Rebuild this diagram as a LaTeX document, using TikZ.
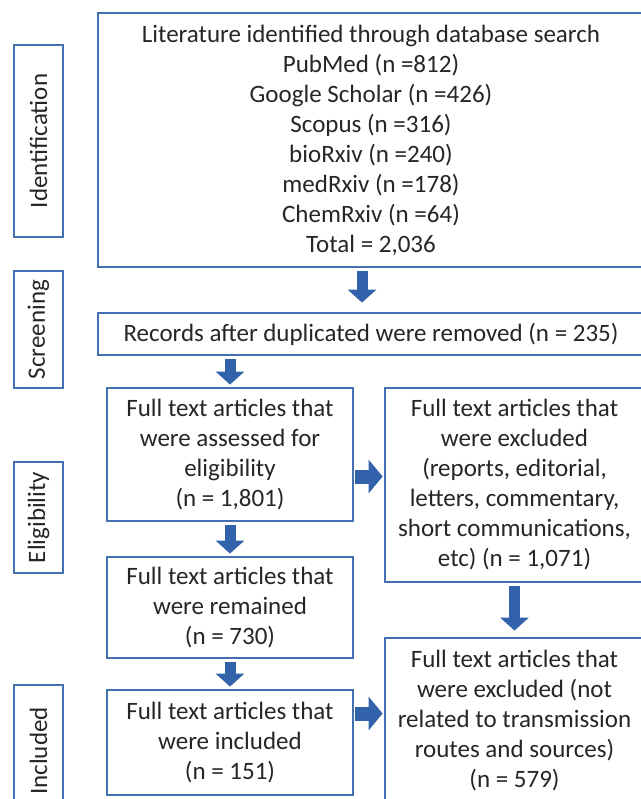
\documentclass[tikz,border=0pt]{standalone}
\usepackage{fontspec}
\setmainfont{Carlito}
\usetikzlibrary{arrows.meta}
\definecolor{boxblue}{RGB}{66,112,176}
\definecolor{arrowblue}{RGB}{50,98,170}
\begin{document}
\begin{tikzpicture}[x=1pt, y=-1pt,
    every node/.style={font=\fontsize{25pt}{30pt}\selectfont, text=black!85},
    mainbox/.style={draw=boxblue, line width=2.8pt, align=center, inner sep=0pt},
    stagebox/.style={draw=boxblue, line width=2.8pt, inner sep=0pt, rotate=90, minimum height=49pt},
    fatarrow/.style={draw=arrowblue, line width=11pt, shorten <=3pt, shorten >=2pt,
        -{Triangle[width=28pt, length=13pt]}},
    sidearrow/.style={fatarrow, line width=14pt, shorten <=1pt, shorten >=1pt,
        -{Triangle[width=33pt, length=14pt]}}]
    \useasboundingbox[fill=white] (0,0) rectangle (640,799);
    \node[stagebox, minimum width=192pt] (ident) at (38.5,141) {Identification};
    \node[stagebox, minimum width=117pt] (screen) at (38.5,329.5) {Screening};
    \node[stagebox, minimum width=111pt] (elig) at (38.5,517.5) {Eligibility};
    \node[stagebox, minimum width=132pt] (incl) at (38.5,751) {Included};
    \node[mainbox, minimum width=546pt, minimum height=254pt] (search) at (371,140)
        {Literature identified through database search\\ PubMed (n =812)\\ Google Scholar (n =426)\\
         Scopus (n =316)\\ bioRxiv (n =240)\\ medRxiv (n =178)\\ ChemRxiv (n =64)\\ Total = 2,036};
    \node[mainbox, minimum width=546pt, minimum height=42pt] (records) at (371,334)
        {Records after duplicated were removed (n = 235)};
    \node[mainbox, minimum width=246pt, minimum height=133pt] (assessed) at (230,454.5)
        {Full text articles that\\ were assessed for\\ eligibility\\ (n = 1,801)};
    \node[mainbox, minimum width=259pt, minimum height=194pt] (excluded) at (514.5,485)
        {Full text articles that\\ were excluded\\ (reports, editorial,\\ letters, commentary,\\
         short communications,\\ etc) (n = 1,071)};
    \node[mainbox, minimum width=246pt, minimum height=101pt] (remained) at (230,607.5)
        {Full text articles that\\ were remained\\ (n = 730)};
    \node[mainbox, minimum width=246pt, minimum height=105pt] (included) at (230,742.5)
        {Full text articles that\\ were included\\ (n = 151)};
    \node[mainbox, minimum width=259pt, minimum height=166pt] (unrelated) at (514.5,721)
        {Full text articles that\\ were excluded (not\\ related to transmission\\ routes and sources)\\ (n = 579)};
    \draw[fatarrow] ([xshift=-9pt]search.south) -- ([xshift=-9pt, yshift=7pt]records.north);
    \draw[fatarrow] (records.south -| assessed.north) -- (assessed.north);
    \draw[fatarrow] (assessed) -- (remained);
    \draw[fatarrow] (remained) -- (included);
    \draw[sidearrow] ([yshift=-22pt]assessed.east) -- ([yshift=-22pt]assessed.east -| excluded.west);
    \draw[fatarrow] (excluded) -- ([yshift=4pt]unrelated.north);
    \draw[sidearrow] ([yshift=29pt]included.east) -- ([yshift=29pt]included.east -| unrelated.west);
\end{tikzpicture}
\end{document}
